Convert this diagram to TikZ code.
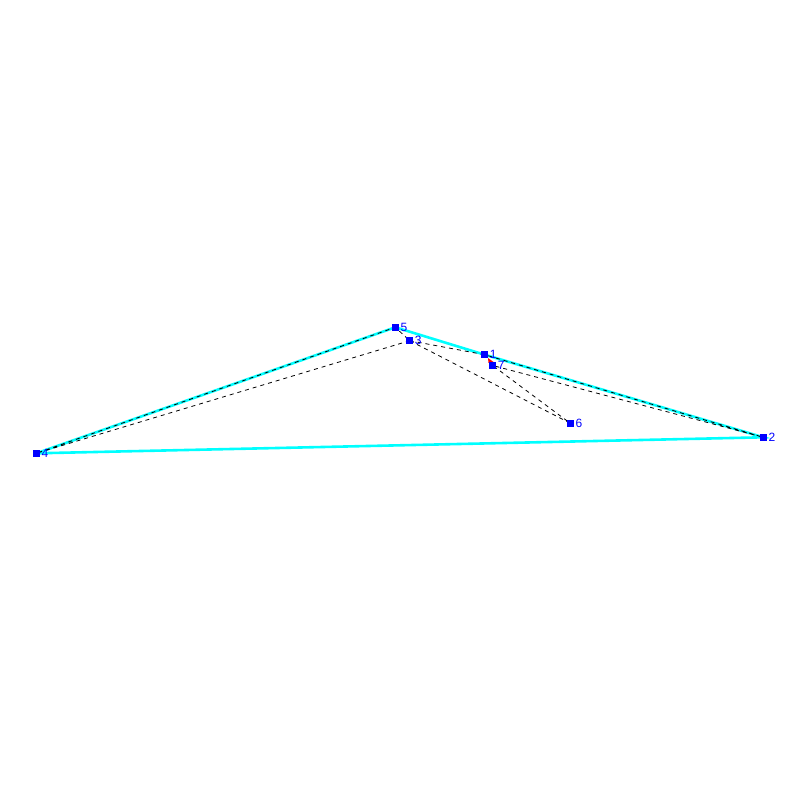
\documentclass[tikz,border=0pt]{standalone}
\usepackage{fontspec}
\setmainfont{Liberation Sans}
\begin{document}
\begin{tikzpicture}[x=1pt,y=-1pt,
  pt/.style={draw=none,fill=blue,minimum size=7pt,inner sep=0pt,outer sep=0pt,
     label={[text=blue,font=\fontsize{12}{13}\selectfont,inner sep=0pt,anchor=west,xshift=1.5pt]east:#1}},
  hull/.style={draw={rgb,255:red,0;green,255;blue,255},line width=2.6pt},
  route/.style={draw=black,line width=0.8pt,dash pattern=on 4pt off 4pt}]
\useasboundingbox (0,0) rectangle (800,800);
\fill[white] (0,0) rectangle (800,800);
\coordinate (c1) at (484.7,354.7);
\coordinate (c2) at (763.3,437.3);
\coordinate (c3) at (409.7,340.7);
\coordinate (c4) at (36.3,453.3);
\coordinate (c5) at (395.3,327.3);
\coordinate (c6) at (570.3,423.3);
\coordinate (c7) at (492.7,365.5);
% hull
\draw[hull] (c4) -- (c5) -- (c1) -- (c2) -- (c4);
% routes
\draw[route] (c3) -- (c4) -- (c5) -- (c3);
\draw[route] (c3) -- (c1) -- (c2) -- (c7) -- (c6) -- (c3);
% red marker
\fill[red] (488,358) -- (493.5,362) -- (488.5,363) -- cycle;
% points
\node[pt=1] (p1) at (c1) {};
\node[pt=2] (p2) at (c2) {};
\node[pt=3] (p3) at (c3) {};
\node[pt=4] (p4) at (c4) {};
\node[pt=5] (p5) at (c5) {};
\node[pt=6] (p6) at (c6) {};
\node[pt=7] (p7) at (c7) {};
\end{tikzpicture}
\end{document}
